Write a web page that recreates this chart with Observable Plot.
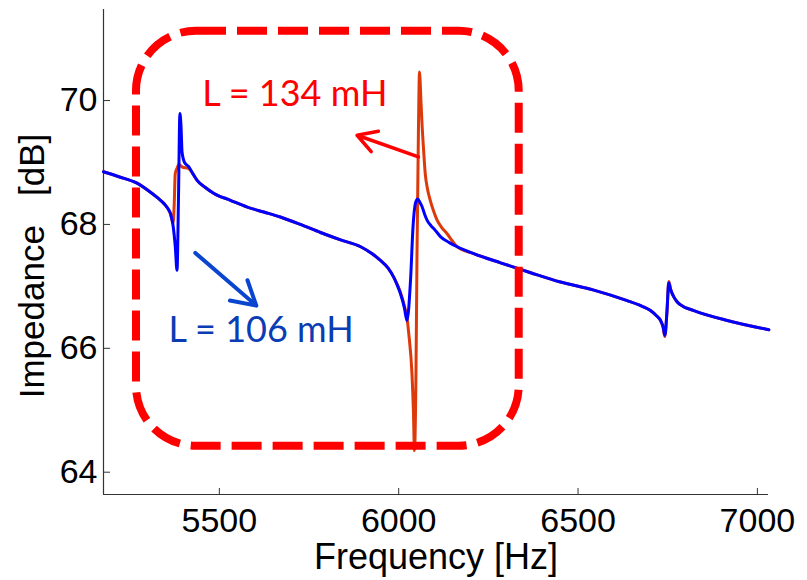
<!DOCTYPE html>
<html>
<head>
<meta charset="utf-8">
<script src="https://cdn.jsdelivr.net/npm/d3@7"></script>
<script src="https://cdn.jsdelivr.net/npm/@observablehq/plot@0.6"></script>
<style>
  html, body { margin: 0; padding: 0; background: #fff; }
  #chart svg { display: block; }
</style>
</head>
<body>
<div id="chart"></div>
<script>
// ---- Data ----
// L = 106 mH (blue)
const freq106 = [5177, 5220, 5269, 5308, 5330, 5345, 5356, 5364, 5371, 5377, 5382, 5386, 5390, 5393, 5396, 5403, 5415, 5426, 5438, 5460, 5485, 5531, 5578, 5624, 5670, 5726, 5782, 5838, 5894, 5925, 5949, 5970, 5986, 5996, 6005, 6016, 6023, 6033, 6040, 6047, 6053, 6059, 6065, 6072, 6079, 6090, 6100, 6117, 6140, 6163, 6209, 6284, 6368, 6451, 6544, 6637, 6670, 6702, 6718, 6730, 6737, 6742, 6748, 6753, 6758, 6767, 6775, 6786, 6823, 6916, 7032];
const db106   = [68.85, 68.77, 68.67, 68.52, 68.42, 68.34, 68.26, 68.17, 67.98, 67.65, 67.26, 68.40, 69.79, 69.60, 69.17, 69.00, 68.93, 68.82, 68.71, 68.60, 68.50, 68.39, 68.28, 68.20, 68.12, 68.00, 67.87, 67.75, 67.64, 67.53, 67.42, 67.30, 67.15, 67.02, 66.88, 66.65, 66.45, 67.10, 67.97, 68.35, 68.41, 68.36, 68.29, 68.17, 68.07, 67.98, 67.92, 67.80, 67.71, 67.64, 67.53, 67.38, 67.22, 67.07, 66.94, 66.77, 66.70, 66.61, 66.53, 66.45, 66.35, 66.21, 66.60, 67.06, 66.95, 66.83, 66.76, 66.70, 66.61, 66.45, 66.30];
// L = 134 mH (red)
const freq134 = [5177, 5220, 5269, 5308, 5330, 5345, 5356, 5364, 5371, 5374, 5377, 5383, 5387, 5396, 5415, 5426, 5438, 5460, 5485, 5531, 5578, 5624, 5670, 5726, 5782, 5838, 5894, 5925, 5949, 5970, 5986, 5996, 6005, 6016, 6023, 6028, 6037, 6041, 6044, 6048, 6051, 6055, 6058, 6062, 6065, 6070, 6074, 6080, 6088, 6097, 6107, 6120, 6135, 6150, 6163, 6209, 6284, 6368, 6451, 6544, 6637, 6670, 6702, 6718, 6730, 6737, 6742, 6748, 6753, 6758, 6767, 6775, 6786, 6823, 6916, 7032];
const db134   = [68.85, 68.77, 68.67, 68.52, 68.42, 68.34, 68.26, 68.17, 68.02, 68.30, 68.82, 68.92, 68.97, 68.93, 68.90, 68.82, 68.71, 68.60, 68.50, 68.39, 68.28, 68.20, 68.12, 68.00, 67.87, 67.75, 67.64, 67.53, 67.42, 67.30, 67.15, 67.03, 66.90, 66.68, 66.50, 66.24, 65.59, 65.00, 64.35, 65.50, 67.50, 69.50, 70.46, 70.00, 69.63, 69.15, 68.82, 68.58, 68.39, 68.22, 68.07, 67.95, 67.85, 67.73, 67.64, 67.53, 67.38, 67.22, 67.07, 66.94, 66.77, 66.70, 66.61, 66.53, 66.45, 66.34, 66.19, 66.60, 67.08, 66.96, 66.83, 66.76, 66.70, 66.61, 66.45, 66.30];

const xTicks = [5500, 6000, 6500, 7000];
const yTicks = [64, 66, 68, 70];
const xDomain = [5177, 7031];
const yDomain = [63.64, 71.47];

const xTitle = "Frequency [Hz]";
const yTitle = "Impedance\u00a0\u00a0\u00a0[dB]";

// highlight box (data coordinates)
const highlightBox = [{f1: 5269, f2: 6336, d1: 64.42, d2: 71.12}];
// annotations (data coordinates)
const label134 = [{f: 5452, db: 69.92, text: "L = 134 mH"}];
const label106 = [{f: 5358, db: 66.10, text: "L = 106 mH"}];
const arrow134 = [{f1: 6055, db1: 69.09, f2: 5884, db2: 69.44}];
const arrow106 = [{f1: 5433, db1: 67.54, f2: 5603, db2: 66.69}];

// ---- Build tables ----
const s106 = freq106.map((f, i) => ({f, db: db106[i]}));
const s134 = freq134.map((f, i) => ({f, db: db134[i]}));

const W = 807, H = 580, ML = 103, MR = 39, MT = 9, MB = 86;
const innerW = W - ML - MR, innerH = H - MT - MB;
const axisFont = "Liberation Sans, Arial, Helvetica, sans-serif";
const noteFont = "Lato, Open Sans, sans-serif";

const chart = Plot.plot({
  width: W, height: H,
  marginLeft: ML, marginRight: MR, marginTop: MT, marginBottom: MB,
  style: {fontFamily: axisFont, fontSize: "34px", color: "#000", background: "#fff"},
  x: {domain: xDomain, label: null},
  y: {domain: yDomain, label: null},
  marks: [
    Plot.axisX(xTicks, {tickSize: 0, tickPadding: 13, label: null, tickFormat: d => String(d), fontFamily: axisFont}),
    Plot.axisY(yTicks, {tickSize: 0, tickPadding: 6, label: null, tickFormat: d => String(d), fontFamily: axisFont}),
    Plot.tickX(xTicks, {x: d => d, insetTop: innerH - 6, stroke: "#333", strokeWidth: 1}),
    Plot.tickY(yTicks, {y: d => d, insetRight: innerW - 7, stroke: "#333", strokeWidth: 1}),
    Plot.ruleX([xDomain[0]], {stroke: "#333", strokeWidth: 1.2}),
    Plot.ruleY([yDomain[0]], {stroke: "#333", strokeWidth: 1.2}),
    Plot.text([xTitle], {frameAnchor: "bottom", textAnchor: "middle", lineAnchor: "bottom", dy: 74, fontSize: 36, fontFamily: axisFont}),
    Plot.text([yTitle], {frameAnchor: "left", textAnchor: "middle", lineAnchor: "bottom", rotate: -90, dx: -60, dy: 14, fontSize: 35, fontFamily: axisFont}),
    Plot.line(s134, {x: "f", y: "db", stroke: "#dc3a0a", strokeWidth: 3, curve: "monotone-x"}),
    Plot.line(s106, {x: "f", y: "db", stroke: "#0000ff", strokeWidth: 3, curve: "monotone-x"}),
    Plot.rect(highlightBox, {x1: "f1", x2: "f2", y1: "d1", y2: "d2", fill: "none", stroke: "#ff0000", strokeWidth: 8, strokeDasharray: "30,11", rx: 60}),
    Plot.arrow(arrow134, {x1: "f1", y1: "db1", x2: "f2", y2: "db2", stroke: "#ff0000", strokeWidth: 3.5, headLength: 18, headAngle: 60}),
    Plot.arrow(arrow106, {x1: "f1", y1: "db1", x2: "f2", y2: "db2", stroke: "#0a45d0", strokeWidth: 4, headLength: 20, headAngle: 60}),
    Plot.text(label134, {x: "f", y: "db", text: "text", fill: "#ff0000", textAnchor: "start", lineAnchor: "bottom", fontSize: 36, fontFamily: noteFont}),
    Plot.text(label106, {x: "f", y: "db", text: "text", fill: "#0a3cb4", textAnchor: "start", lineAnchor: "bottom", fontSize: 36, fontFamily: noteFont})
  ]
});
document.getElementById("chart").appendChild(chart);
</script>
</body>
</html>
